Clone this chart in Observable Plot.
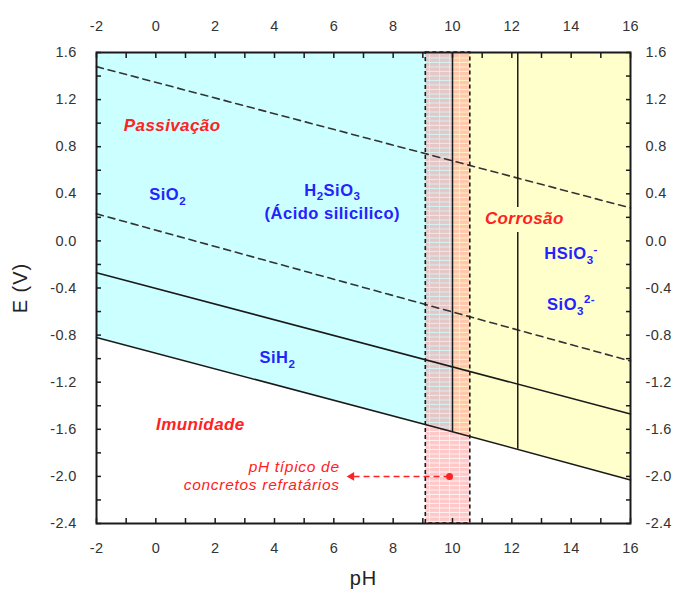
<!DOCTYPE html>
<html>
<head>
<meta charset="utf-8">
<script src="https://cdn.jsdelivr.net/npm/d3@7"></script>
<script src="https://cdn.jsdelivr.net/npm/@observablehq/plot@0.6"></script>
<style>
  body { margin: 0; background: #fff; }
  #chart svg { font-family: "Liberation Sans", Arial, sans-serif; overflow: visible; }
  #chart g[fill="#2323ff"] text { letter-spacing: 0.5px; }
  #chart g[fill="#ff2222"][font-weight="bold"] text { letter-spacing: 0.4px; }
  #chart g[fill="#ff2222"][font-size="15.5"] text { letter-spacing: 0.7px; }
  #chart g[font-size="20"] text { letter-spacing: 1px; }
  #chart g[font-size="14.5"] text { letter-spacing: 0.3px; }
</style>
</head>
<body>
<div id="chart"></div>
<script>
// Pourbaix (E–pH) diagram for silicon in water

// Straight boundaries, given by their end points at pH -2 and pH 16
const pHEnds = [-2, 16];
const waterUpper = [1.48, 0.28];      // O2/H2O limit (dashed)
const waterLower = [0.23, -1.02];     // H2O/H2 limit (dashed)
const oxideHydride = [-0.27, -1.47];  // SiO2 / SiH2 boundary

// Lower limit of the shaded domains (SiH2 / Si), with its break points
const hydridePH = [-2, 10, 16];
const hydrideSi = [-0.82, -1.62, -2.03];

// Vertical acid/base boundaries
const acidBase = [
  {pH: 10.0, low: -1.62},
  {pH: 12.2, low: -1.77}
];

// Typical pH band of refractory castables
const concreteBand = [{pH1: 9.1, pH2: 10.6}];
const concreteTypical = [{pH: 9.9, E: -2.0}];
const arrowEndPH = 6.6;

const eTop = 1.6, eBottom = -2.4;

// Axis ticks
const pHLabels = [-2, 0, 2, 4, 6, 8, 10, 12, 14, 16];
const pHMinor = [-2, -1, 0, 1, 2, 3, 4, 5, 6, 7, 8, 9, 10, 11, 12, 13, 14, 15, 16];
const eLabels = [-2.4, -2.0, -1.6, -1.2, -0.8, -0.4, 0, 0.4, 0.8, 1.2, 1.6];
const eMinor = [-2.4, -2.2, -2.0, -1.8, -1.6, -1.4, -1.2, -1.0, -0.8, -0.6, -0.4, -0.2, 0,
                0.2, 0.4, 0.6, 0.8, 1.0, 1.2, 1.4, 1.6];

// Species (blue) and regime (red) labels; "_" = subscript, "^" = superscript
const speciesLabels = [
  {pH: 0.4,  E: 0.39,  text: "SiO_2"},
  {pH: 5.95, E: 0.43,  text: "H_2SiO_3"},
  {pH: 5.95, E: 0.23,  text: "(Ácido silicilico)"},
  {pH: 14.0, E: -0.11, text: "HSiO_3^-"},
  {pH: 14.0, E: -0.54, text: "SiO_3^{2-}"},
  {pH: 4.1,  E: -0.99, text: "SiH_2"}
];
const regimeLabels = [
  {pH: 0.55, E: 0.98,  text: "Passivação"},
  {pH: 1.5,  E: -1.56, text: "Imunidade"}
];
const corrosionLabel = [{pH: 12.42, E: 0.19, text: "Corrosão"}];
const concreteNote = [{pH: 6.2, E: -1.99, text: "pH típico de\nconcretos refratários"}];

const cyan = "#ccffff";
const yellow = "#ffffcc";
const red = "#ff2222";
const blue = "#2323ff";
const ink = "#1a1a1a";

const segment = (ys) => pHEnds.map((pH, i) => ({pH, E: ys[i]}));
const hydride = hydridePH.map((pH, i) => ({pH, E: hydrideSi[i]}));

const chart = Plot.plot({
  width: 676,
  height: 592,
  marginTop: 52,
  marginRight: 46,
  marginBottom: 69,
  marginLeft: 96,
  x: {domain: [-2, 16]},
  y: {domain: [eBottom, eTop]},
  marks: [
    // stability domains
    Plot.areaY(hydride.filter(d => d.pH <= 10), {x: "pH", y1: "E", y2: () => eTop, fill: cyan}),
    Plot.areaY(hydride.filter(d => d.pH >= 10), {x: "pH", y1: "E", y2: () => eTop, fill: yellow}),
    // typical concrete pH band
    Plot.rect(concreteBand, {x1: "pH1", x2: "pH2", y1: () => eBottom, y2: () => eTop,
      fill: "url(#concrete-hatch)"}),
    // water stability limits
    Plot.line(segment(waterUpper), {x: "pH", y: "E", stroke: "#333", strokeWidth: 1.6, strokeDasharray: "7,5"}),
    Plot.line(segment(waterLower), {x: "pH", y: "E", stroke: "#333", strokeWidth: 1.6, strokeDasharray: "7,5"}),
    // phase boundaries
    Plot.line(segment(oxideHydride), {x: "pH", y: "E", stroke: ink, strokeWidth: 1.5}),
    Plot.line(hydride, {x: "pH", y: "E", stroke: ink, strokeWidth: 1.5}),
    Plot.ruleX(acidBase, {x: "pH", y1: "low", y2: () => eTop, stroke: ink, strokeWidth: 1.5}),
    // band outline
    Plot.rect(concreteBand, {x1: "pH1", x2: "pH2", y1: () => eBottom, y2: () => eTop,
      fill: "none", stroke: ink, strokeWidth: 1.6, strokeDasharray: "4,3"}),
    // typical pH marker and pointer
    Plot.link(concreteTypical, {x1: "pH", y1: "E", x2: () => arrowEndPH, y2: "E",
      stroke: red, strokeWidth: 1.5, strokeDasharray: "6,4"}),
    Plot.dot(concreteTypical, {x: () => arrowEndPH, y: "E", symbol: "triangle", r: 3.2,
      rotate: -90, fill: red, stroke: "none"}),
    Plot.dot(concreteTypical, {x: "pH", y: "E", r: 3.5, fill: red, stroke: "none"}),
    Plot.text(concreteNote, {x: "pH", y: "E", text: "text", textAnchor: "end", fill: red,
      fontSize: 15.5, fontStyle: "italic", lineHeight: 1.2}),
    // labels
    Plot.text(speciesLabels, {x: "pH", y: "E", text: "text", fill: blue, fontSize: 16.5, fontWeight: "bold"}),
    Plot.text(regimeLabels, {x: "pH", y: "E", text: "text", fill: red, fontSize: 17,
      fontWeight: "bold", fontStyle: "italic"}),
    Plot.text(corrosionLabel, {x: "pH", y: "E", text: "text", fill: red, fontSize: 17,
      fontWeight: "bold", fontStyle: "italic", stroke: yellow, strokeWidth: 16}),
    // frame and axes
    Plot.frame({stroke: ink, strokeWidth: 2}),
    Plot.axisX(pHMinor, {anchor: "bottom", tickSize: -5, tickFormat: () => "", label: null, stroke: ink, strokeWidth: 1.5}),
    Plot.axisX(pHMinor, {anchor: "top", tickSize: -5, tickFormat: () => "", label: null, stroke: ink, strokeWidth: 1.5}),
    Plot.axisY(eMinor, {anchor: "left", tickSize: -5, tickFormat: () => "", label: null, stroke: ink, strokeWidth: 1.5}),
    Plot.axisY(eMinor, {anchor: "right", tickSize: -5, tickFormat: () => "", label: null, stroke: ink, strokeWidth: 1.5}),
    Plot.axisX(pHLabels, {anchor: "bottom", tickSize: 0, tickPadding: 19, tickFormat: d => String(d),
      label: null, fontSize: 14.5, fill: "#333"}),
    Plot.axisX(pHLabels, {anchor: "top", tickSize: 0, tickPadding: 22, tickFormat: d => String(d),
      label: null, fontSize: 14.5, fill: "#333"}),
    Plot.axisY(eLabels, {anchor: "left", tickSize: 0, tickPadding: 20, tickFormat: d => d.toFixed(1),
      label: null, fontSize: 14.5, fill: "#333"}),
    Plot.axisY(eLabels, {anchor: "right", tickSize: 0, tickPadding: 15, tickFormat: d => d.toFixed(1),
      label: null, fontSize: 14.5, fill: "#333"}),
    Plot.text(["pH"], {text: d => d, frameAnchor: "bottom", dy: 55, lineAnchor: "middle",
      textAnchor: "middle", fontSize: 20, fill: "#222"}),
    Plot.text(["E (V)"], {text: d => d, frameAnchor: "left", dx: -76, rotate: -90,
      textAnchor: "middle", lineAnchor: "middle", fontSize: 20, fill: "#222"})
  ]
});

// hatch pattern for the concrete pH band: translucent pink cells with clear grid gaps
const ns = "http://www.w3.org/2000/svg";
const defs = document.createElementNS(ns, "defs");
defs.innerHTML = `
  <pattern id="concrete-hatch" patternUnits="userSpaceOnUse" width="10" height="4.5">
    <rect width="9" height="3.5" fill="#ff9090" fill-opacity="0.5"/>
    <rect x="9" width="1" height="3.5" fill="#ff9090" fill-opacity="0.2"/>
    <rect y="3.5" width="10" height="1" fill="#ff9090" fill-opacity="0.1"/>
  </pattern>`;
chart.insertBefore(defs, chart.firstChild);

// render "_x" as subscript and "^x" as superscript
chart.querySelectorAll("text").forEach(t => {
  const s = t.textContent;
  if (!/[_^]/.test(s)) return;
  const size = parseFloat(t.closest("[font-size]")?.getAttribute("font-size")) || 15;
  t.textContent = "";
  let offset = 0;
  const re = /([_^])(\{[^}]*\}|.)|([^_^]+)/g;
  let m;
  while ((m = re.exec(s))) {
    const span = document.createElementNS(ns, "tspan");
    let target = 0, txt;
    if (m[3] !== undefined) {
      txt = m[3];
    } else {
      txt = m[2].replace(/[{}]/g, "");
      target = m[1] === "_" ? size * 0.3 : -size * 0.4;
      span.setAttribute("font-size", size * 0.7);
    }
    if (target !== offset) span.setAttribute("dy", target - offset);
    offset = target;
    span.textContent = txt;
    t.appendChild(span);
  }
});

document.getElementById("chart").appendChild(chart);
</script>
</body>
</html>
